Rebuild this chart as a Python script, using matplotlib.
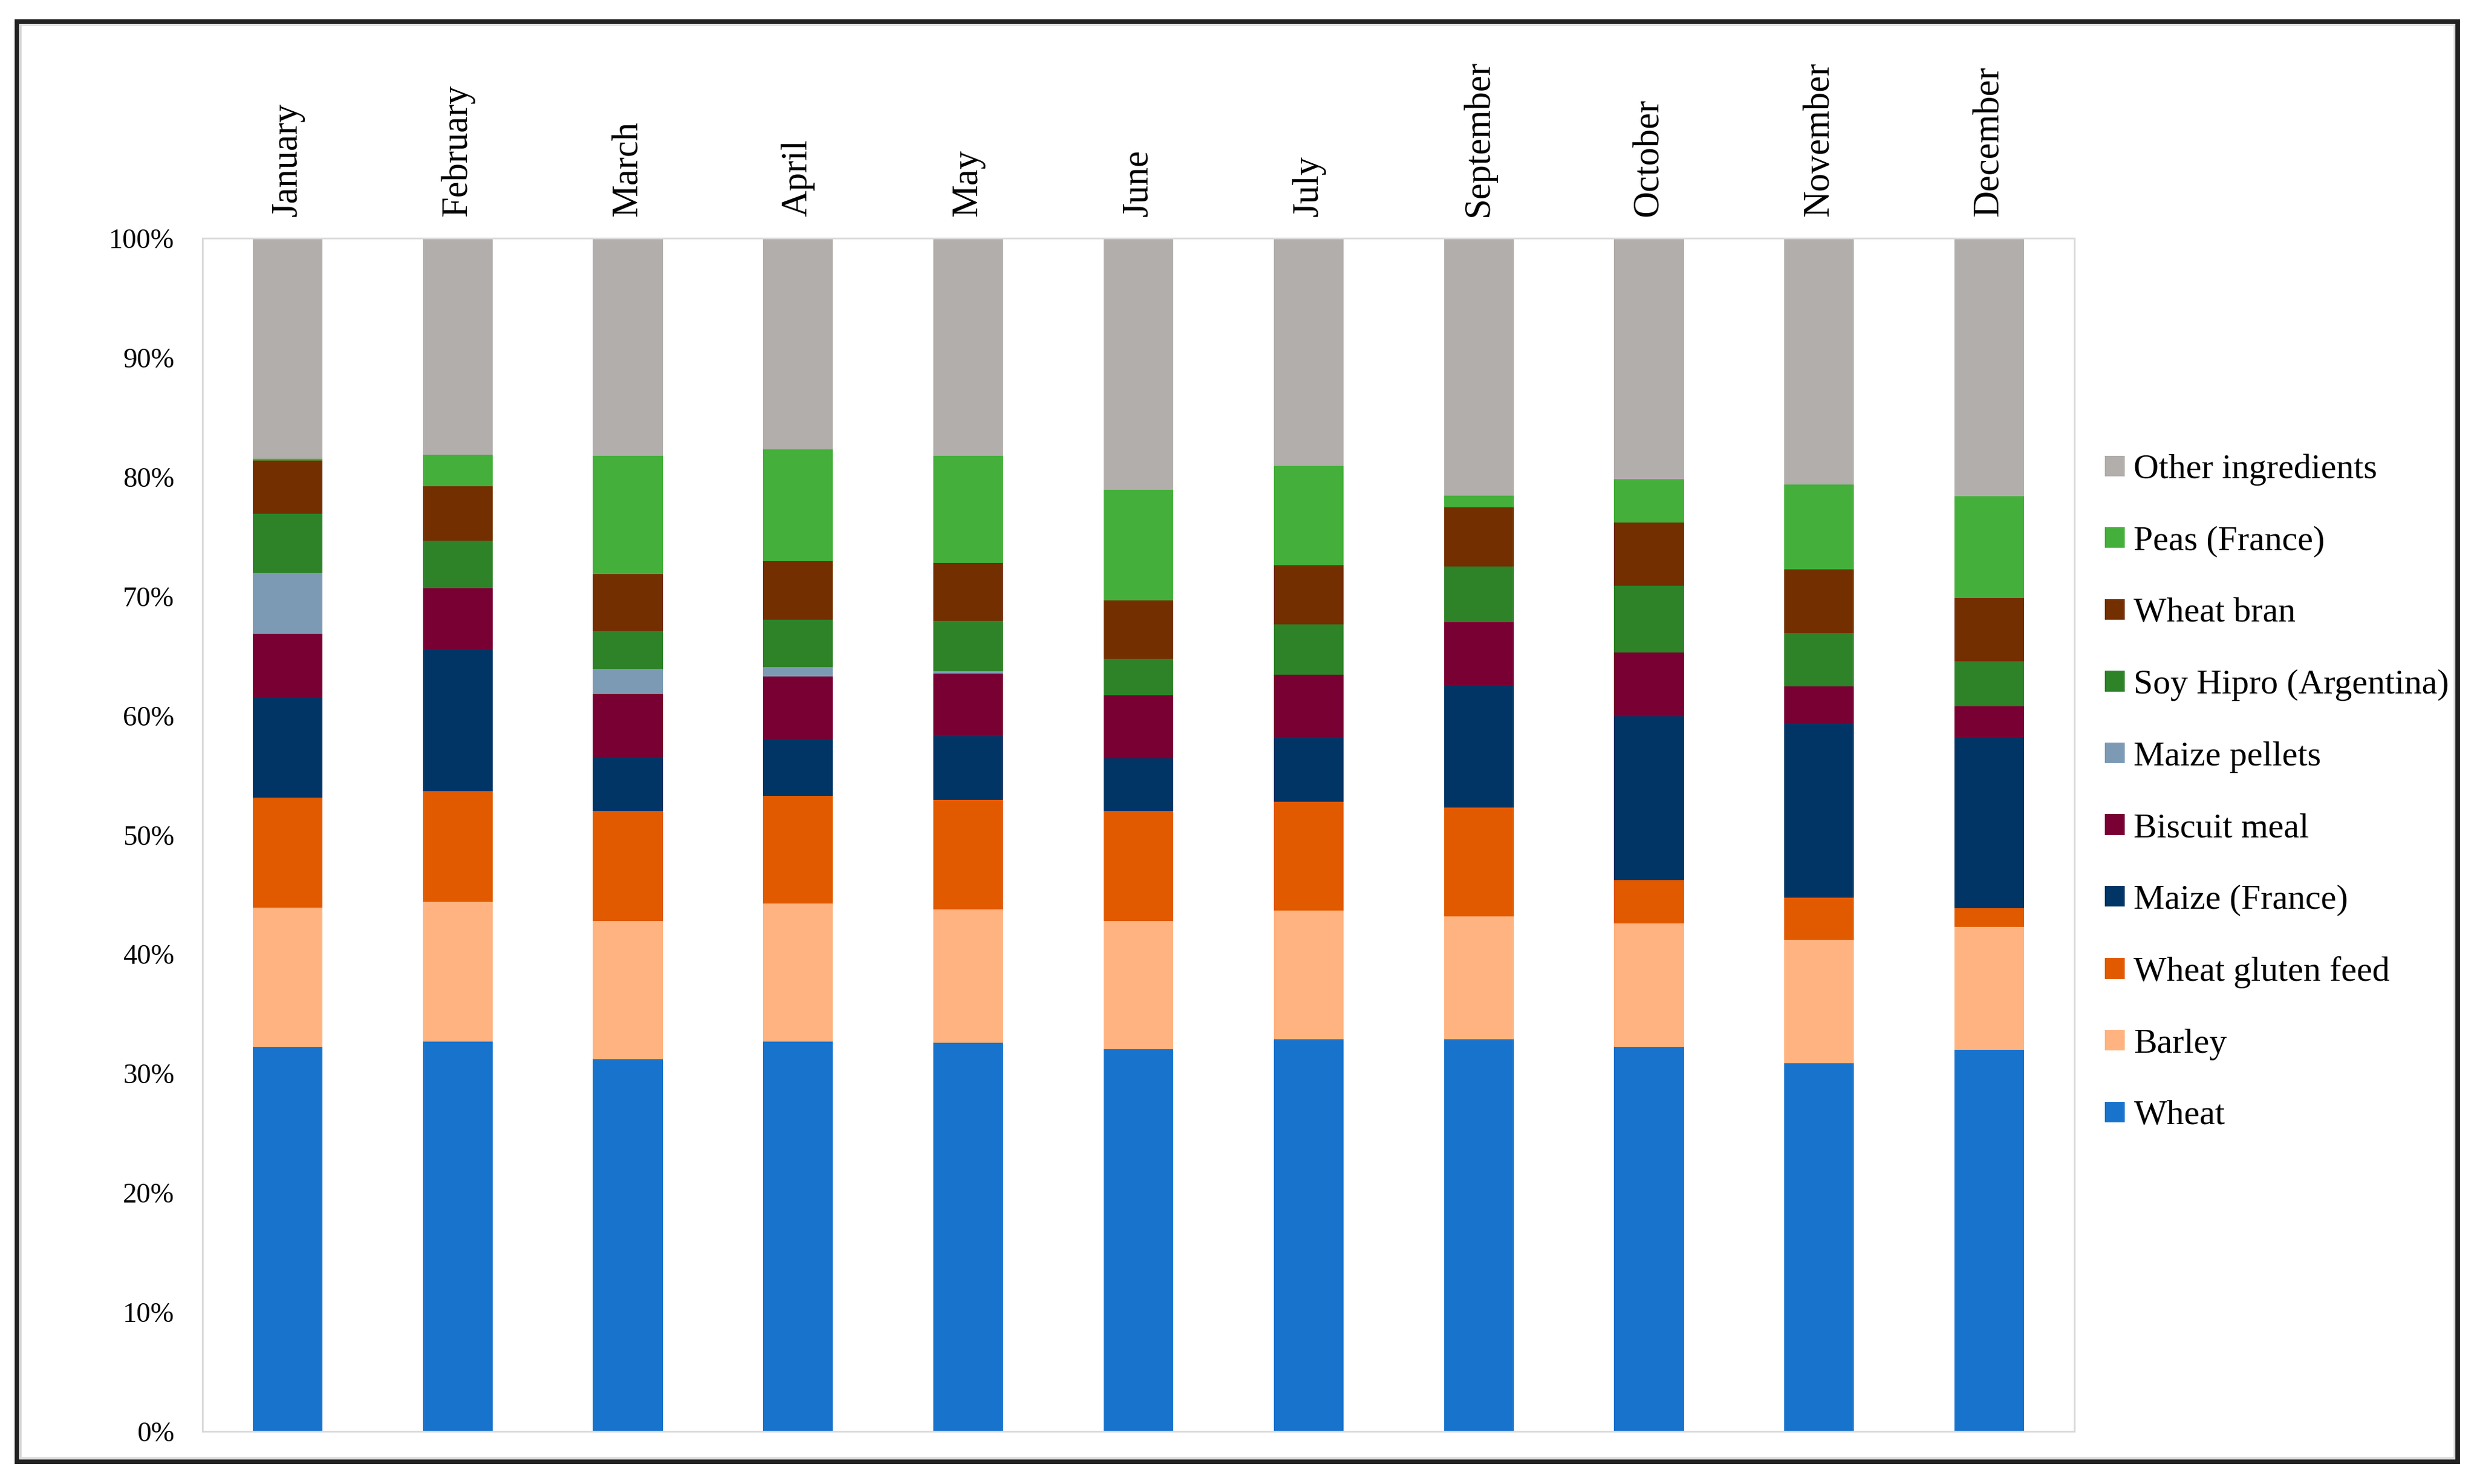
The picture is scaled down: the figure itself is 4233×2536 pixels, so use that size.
import matplotlib
matplotlib.use("Agg")
import matplotlib.pyplot as plt
from matplotlib.patches import Rectangle
import numpy as np

months = ['January', 'February', 'March', 'April', 'May', 'June', 'July',
          'September', 'October', 'November', 'December']

wheat   = [32.20, 32.65, 31.20, 32.65, 32.55, 32.05, 32.85, 32.85, 32.20, 30.85, 32.00]
barley  = [11.67, 11.75, 11.55, 11.60, 11.20, 10.70, 10.80, 10.33, 10.36, 10.33, 10.28]
gluten  = [9.23, 9.26, 9.22, 9.01, 9.16, 9.22, 9.14, 9.08, 3.66, 3.57, 1.56]
maize   = [8.42, 11.79, 4.48, 4.69, 5.35, 4.42, 5.31, 10.26, 13.73, 14.54, 14.35]
biscuit = [5.31, 5.20, 5.35, 5.32, 5.26, 5.31, 5.32, 5.31, 5.32, 3.13, 2.58]
pellets = [5.13, 0.00, 2.12, 0.78, 0.18, 0.00, 0.00, 0.00, 0.00, 0.00, 0.00]
soy     = [4.95, 3.97, 3.16, 3.97, 4.23, 3.04, 4.23, 4.66, 5.60, 4.48, 3.75]
bran    = [4.47, 4.57, 4.79, 4.91, 4.85, 4.91, 4.94, 4.97, 5.31, 5.34, 5.31]
peas    = [0.15, 2.65, 9.91, 9.36, 9.00, 9.26, 8.32, 0.98, 3.63, 7.10, 8.54]
other   = [18.49, 18.16, 18.22, 17.71, 18.22, 21.09, 19.09, 21.56, 20.19, 20.66, 21.63]

series_names = ['Wheat', 'Barley', 'Wheat gluten feed', 'Maize (France)', 'Biscuit meal',
                'Maize pellets', 'Soy Hipro (Argentina)', 'Wheat bran', 'Peas (France)',
                'Other ingredients']
series_vals = [wheat, barley, gluten, maize, biscuit, pellets, soy, bran, peas, other]
colors = ['#1873CC', '#FFB380', '#E15A00', '#013565', '#780032', '#7D9AB5',
          '#2E8228', '#732F00', '#44AF3A', '#B2AEAC']

W, H = 4233, 2536
DPI = 300
fig = plt.figure(figsize=(W / DPI, H / DPI), dpi=DPI)
FONT = ['Liberation Serif', 'DejaVu Serif']
plt.rcParams['font.family'] = FONT

left, right, top, bottom = 346, 3545, 407, 2446
ax = fig.add_axes([left / W, 1 - bottom / H, (right - left) / W, (bottom - top) / H])

x = np.arange(len(months))
base = np.zeros(len(months))
handles = []
for name, vals, col in zip(series_names, series_vals, colors):
    v = np.array(vals, dtype=float)
    b = ax.bar(x, v, width=0.41, bottom=base, color=col, label=name, linewidth=0)
    handles.append(b)
    base += v

ax.set_xlim(-0.5, len(months) - 0.5)
ax.set_ylim(0, 100)
ax.set_yticks(np.arange(0, 101, 10))
ax.set_yticklabels([f'{v}%' for v in range(0, 101, 10)])
ax.tick_params(axis='y', length=0, pad=11.5, labelsize=11.5)
ax.xaxis.tick_top()
ax.set_xticks(x)
ax.set_xticklabels(months, rotation=90)
ax.tick_params(axis='x', length=0, pad=9, labelsize=15)
for s in ax.spines.values():
    s.set_color('#D9D9D9')
    s.set_linewidth(0.7)

leg = ax.legend(handles[::-1], series_names[::-1], loc='center left',
                bbox_to_anchor=(3597 / W, 1 - 1355 / H), bbox_transform=fig.transFigure,
                frameon=False, fontsize=14.3, handlelength=0.57, handleheight=0.53,
                handletextpad=0.26, labelspacing=1.15, borderpad=0, borderaxespad=0)

# outer chart frame
fig.patches.append(Rectangle((35 / W, 1 - 2491 / H), (4194 - 35) / W, (2491 - 42) / H,
                             transform=fig.transFigure, fill=False, lw=0.7,
                             ec='#D9D9D9', zorder=5))
fig.patches.append(Rectangle((29 / W, 1 - 2498 / H), (4200 - 29) / W, (2498 - 37) / H,
                             transform=fig.transFigure, fill=False, lw=1.9,
                             ec='#222222', zorder=6))

fig.savefig('out.png', dpi=DPI)
